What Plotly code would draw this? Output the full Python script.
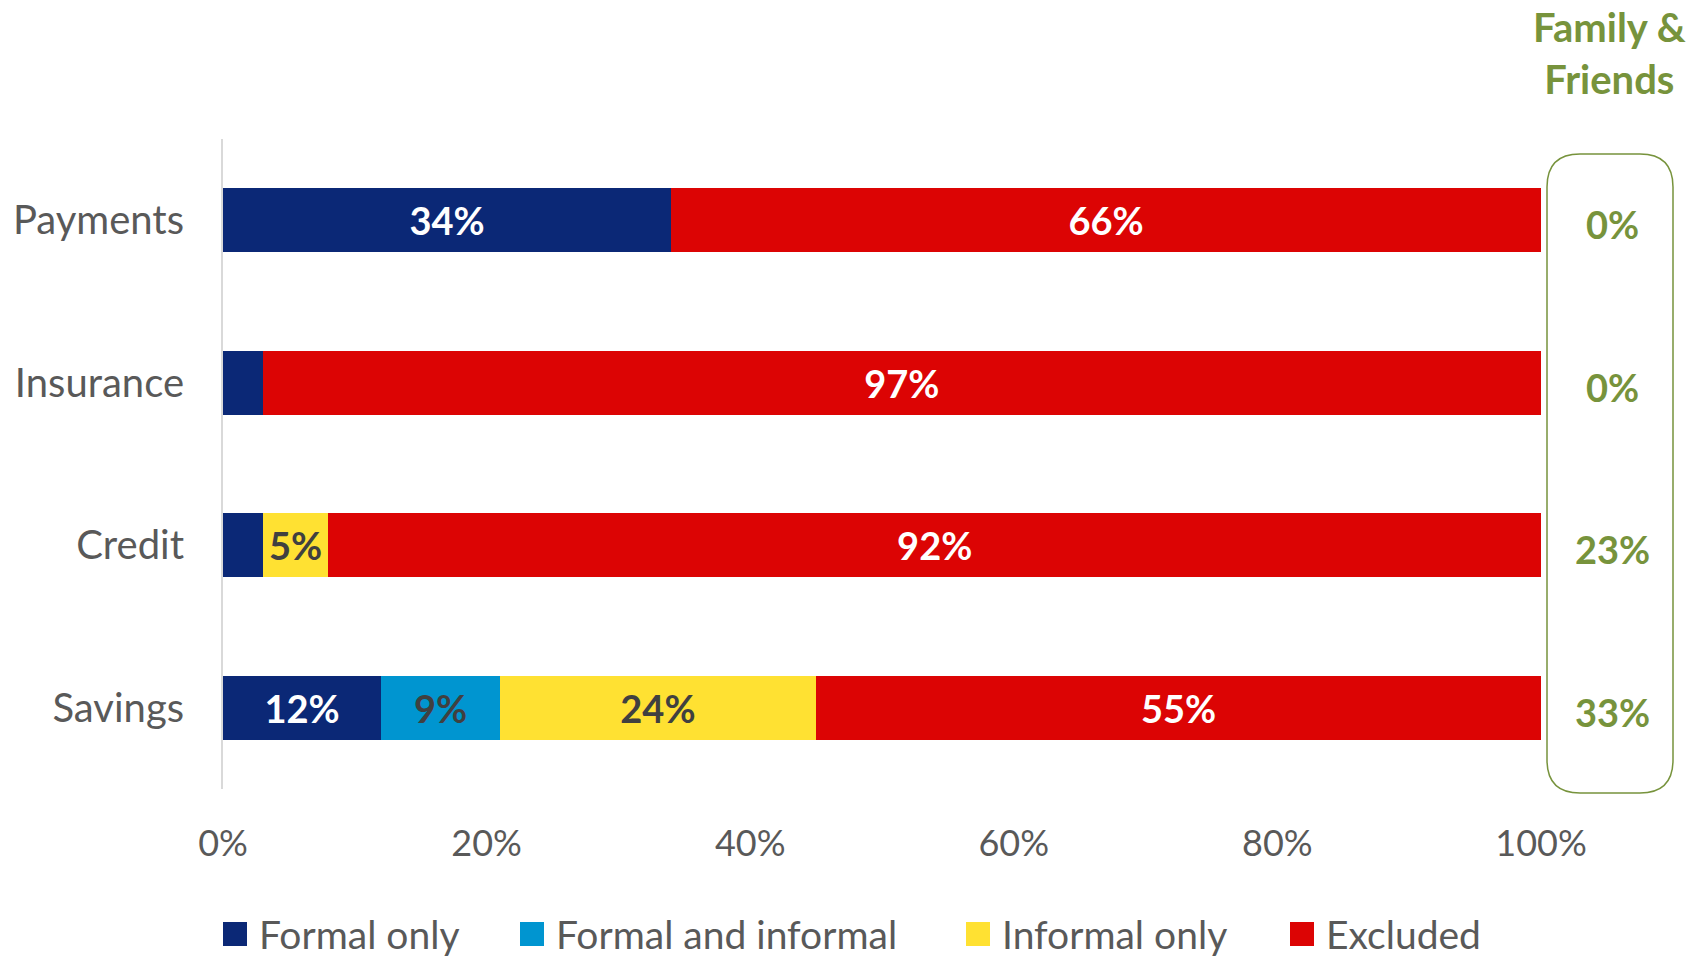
import plotly.graph_objects as go

categories = ["Payments", "Insurance", "Credit", "Savings"]
formal_only = [34, 3, 3, 12]
formal_and_informal = [0, 0, 0, 9]
informal_only = [0, 0, 5, 24]
excluded = [66, 97, 92, 55]
family_friends = [0, 0, 23, 33]
x_ticks = [0, 20, 40, 60, 80, 100]
series_names = ["Formal only", "Formal and informal", "Informal only", "Excluded"]

series_values = [formal_only, formal_and_informal, informal_only, excluded]
colors = ["#0B2876", "#0095D0", "#FFE132", "#DC0404"]
text_colors = ["white", "#404040", "#404040", "white"]

FONT = "Lato"
GRAY = "#595959"
GREEN = "#77933C"

fig = go.Figure()
for name, vals, color, tcolor in zip(series_names, series_values, colors, text_colors):
    fig.add_trace(go.Bar(
        y=categories, x=vals, name=name, orientation="h",
        marker=dict(color=color, line=dict(width=0)),
        text=[f"{v}%" if v >= 5 else "" for v in vals],
        textposition="inside", insidetextanchor="middle",
        textfont=dict(family=FONT, size=38, color=tcolor, weight="bold"),
        constraintext="none", hoverinfo="skip", showlegend=False,
    ))

L, R, T, B = 223, 159, 139, 168
W, H = 1700, 957
pw, ph = W - L - R, H - T - B

def px_x(p):
    return (p - L) / pw

def px_y(p):
    return (H - B - p) / ph

# Family & Friends title
fig.add_annotation(
    x=px_x(1609), y=px_y(53), xref="paper", yref="paper",
    text="<b>Family &amp;<br>Friends</b>", showarrow=False,
    font=dict(family=FONT, size=40, color=GREEN),
    xanchor="center", yanchor="middle", align="center",
)

for cat, v in zip(categories, family_friends):
    fig.add_annotation(
        x=px_x(1612), y=cat, xref="paper", yref="y",
        text=f"<b>{v}%</b>", showarrow=False, yshift=-4,
        font=dict(family=FONT, size=38, color=GREEN),
        xanchor="center", yanchor="middle",
    )

# rounded box
x0, x1 = px_x(1547), px_x(1673)
y0, y1 = px_y(793), px_y(154)
rx, ry = 33 / pw, 33 / ph
path = (f"M {x0+rx},{y1} L {x1-rx},{y1} Q {x1},{y1} {x1},{y1-ry} "
        f"L {x1},{y0+ry} Q {x1},{y0} {x1-rx},{y0} L {x0+rx},{y0} "
        f"Q {x0},{y0} {x0},{y0+ry} L {x0},{y1-ry} Q {x0},{y1} {x0+rx},{y1} Z")
fig.add_shape(type="path", path=path, xref="paper", yref="paper",
              line=dict(color=GREEN, width=1.5))

# legend (drawn manually for exact square markers and spacing)
legend_marker_x = [223, 520, 966, 1290]
leg_yc = 934
for name, color, mx in zip(series_names, colors, legend_marker_x):
    fig.add_shape(type="rect", xref="paper", yref="paper",
                  x0=px_x(mx), x1=px_x(mx + 24), y0=px_y(leg_yc + 12), y1=px_y(leg_yc - 12),
                  fillcolor=color, line=dict(width=0))
    fig.add_annotation(x=px_x(mx + 34), y=px_y(leg_yc), xref="paper", yref="paper",
                       text=name, showarrow=False, xanchor="left", yanchor="middle",
                       font=dict(family=FONT, size=39, color=GRAY))

fig.update_layout(
    width=W, height=H,
    margin=dict(l=L, r=R, t=T, b=B),
    barmode="stack", bargap=0.606,
    plot_bgcolor="white", paper_bgcolor="white",
    font=dict(family=FONT, color=GRAY),
    showlegend=False,
    xaxis=dict(
        range=[0, 100], tickvals=x_ticks, ticktext=[f"{t}%" for t in x_ticks],
        showgrid=False, zeroline=False, showline=False, automargin=False,
        tickfont=dict(family=FONT, size=36, color=GRAY),
        ticklabelstandoff=30,
    ),
    yaxis=dict(
        categoryorder="array", categoryarray=categories, autorange="reversed",
        showgrid=False, zeroline=False, showline=True, linecolor="#D9D9D9", linewidth=2,
        automargin=False,
        tickfont=dict(family=FONT, size=40, color=GRAY),
        ticklabelstandoff=29,
    ),
)

fig.write_html("out.html")
